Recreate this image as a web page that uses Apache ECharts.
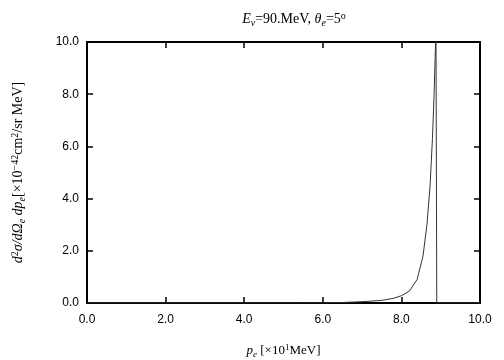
<!DOCTYPE html>
<html>
<head>
<meta charset="utf-8">
<script src="https://cdn.jsdelivr.net/npm/echarts@6/dist/echarts.min.js"></script>
<style>
html, body { margin: 0; padding: 0; background: #fff; }
#chart { width: 504px; height: 360px; }
</style>
</head>
<body>
<div id="chart"></div>
<script>
// electron momentum p_e [x10 MeV]
var pe = [0.0, 2.0, 4.0, 5.5, 6.0, 6.5, 7.0, 7.5, 7.8, 8.0, 8.2, 8.4, 8.55, 8.65, 8.73, 8.79, 8.83, 8.87, 8.88, 8.9, 10.0];
// cross section [x10^-42 cm^2/sr MeV]
var sigma = [0.0, 0.0, 0.0, 0.0, 0.0, 0.02, 0.05, 0.1, 0.18, 0.28, 0.45, 0.9, 1.8, 3.0, 4.5, 6.3, 7.9, 10.0, 10.4, 0.0, 0.0];
var tickLabels = ['0.0', '2.0', '4.0', '6.0', '8.0', '10.0'];

var points = [];
for (var i = 0; i < pe.length; i++) {
    points.push([pe[i], sigma[i]]);
}

var serif = '"Liberation Serif", "DejaVu Serif", serif';
var sans = '"Liberation Sans", "DejaVu Sans", sans-serif';

function fmt(v) {
    return tickLabels[Math.round(v / 2)];
}

function ticks() {
    return { show: true, inside: true, length: 6, lineStyle: { color: '#000', width: 1.5 } };
}
function frameLine(onZero) {
    return { show: true, onZero: onZero, lineStyle: { color: '#000', width: 2 } };
}
function richText(size) {
    var sub = Math.round(size * 0.7);
    return {
        i: { fontFamily: serif, fontStyle: 'italic', fontWeight: 'normal', fontSize: size, color: '#000' },
        n: { fontFamily: serif, fontWeight: 'normal', fontSize: size, color: '#000' },
        s: { fontFamily: serif, fontStyle: 'italic', fontWeight: 'normal', fontSize: sub, color: '#000', verticalAlign: 'bottom', padding: [Math.round(size / 2), 0, 0, 0] },
        sup: { fontFamily: serif, fontWeight: 'normal', fontSize: sub, color: '#000', verticalAlign: 'top', padding: [0, 0, Math.round(size / 2), 0] }
    };
}

var chart = echarts.init(document.getElementById('chart'));
var option = {
    animation: false,
    backgroundColor: '#fff',
    title: {
        text: '{i|E}{s|ν}{n|=90.MeV, }{i|θ}{s|e}{n|=5}{sup|o}',
        left: 289,
        top: 6,
        textAlign: 'center',
        textStyle: { fontWeight: 'normal', rich: richText(14) }
    },
    grid: { left: 87, right: 24, top: 42, bottom: 57, outerBoundsMode: 'none', containLabel: false },
    xAxis: [
        {
            type: 'value', min: 0, max: 10, interval: 2, position: 'bottom',
            axisLine: frameLine(true),
            axisTick: ticks(),
            splitLine: { show: false },
            axisLabel: { formatter: fmt, color: '#000', fontFamily: sans, fontSize: 12, margin: 11 },
            name: '{i|p}{s|e}{n| [×10}{sup|1}{n|MeV]}',
            nameLocation: 'middle',
            nameGap: 40,
            nameTextStyle: { rich: richText(13) }
        },
        {
            type: 'value', min: 0, max: 10, interval: 2, position: 'top',
            axisLine: frameLine(false),
            axisTick: ticks(),
            splitLine: { show: false },
            axisLabel: { show: false }
        }
    ],
    yAxis: [
        {
            type: 'value', min: 0, max: 10, interval: 2, position: 'left',
            axisLine: frameLine(true),
            axisTick: ticks(),
            splitLine: { show: false },
            axisLabel: { formatter: fmt, color: '#000', fontFamily: sans, fontSize: 12, margin: 8 },
            name: '{i|d}{sup|2}{i|σ/dΩ}{s|e}{i| dp}{s|e}{n|[×10}{sup|−42}{n|cm}{sup|2}{n|/sr MeV]}',
            nameLocation: 'middle',
            nameRotate: 90,
            nameGap: 60,
            nameTextStyle: { rich: richText(14) }
        },
        {
            type: 'value', min: 0, max: 10, interval: 2, position: 'right',
            axisLine: frameLine(false),
            axisTick: ticks(),
            splitLine: { show: false },
            axisLabel: { show: false }
        }
    ],
    series: [
        {
            type: 'line',
            xAxisIndex: 0,
            yAxisIndex: 0,
            data: points,
            showSymbol: false,
            symbol: 'none',
            smooth: false,
            clip: true,
            lineStyle: { color: '#333', width: 1 }
        }
    ]
};
if (option && typeof option === "object") {
    chart.setOption(option, true);
}
</script>
</body>
</html>
